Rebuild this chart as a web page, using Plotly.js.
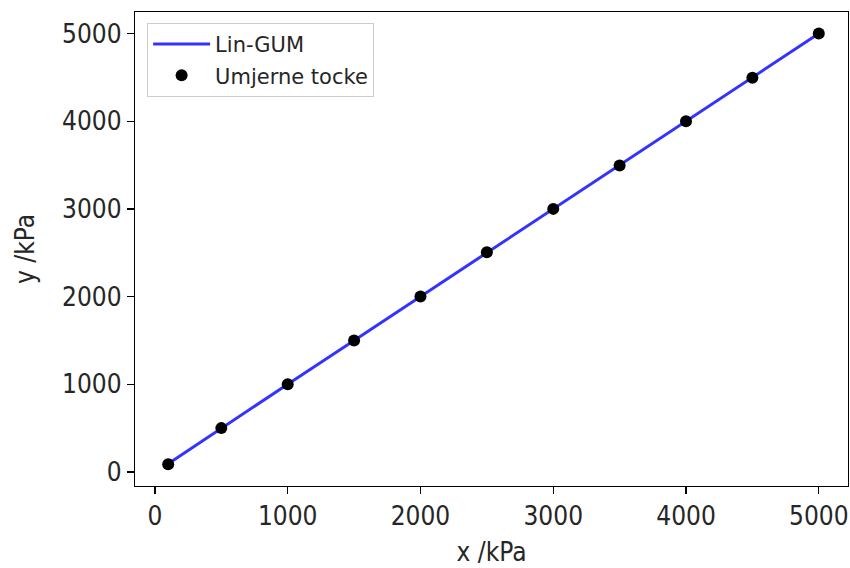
<!DOCTYPE html>
<html><head><meta charset="utf-8">
<script src="https://cdn.plot.ly/plotly-3.0.1.min.js"></script>
<style>body{margin:0;background:#fff}#c{width:850px;height:568px}</style>
</head><body><div id="c"></div>
<script>
const xVals = [100, 500, 1000, 1500, 2000, 2500, 3000, 3500, 4000, 4500, 5000];
const yVals = [88, 500, 1000, 1500, 2000, 2505, 3000, 3495, 4000, 4495, 5000];
const yErr = [15, 15, 15, 15, 15, 15, 15, 15, 15, 15, 15];
const fitY = [95, 500, 1000, 1500, 2000, 2500, 3000, 3500, 4000, 4500, 5000];
const tickVals = [0, 1000, 2000, 3000, 4000, 5000];

const font = {family: '"DejaVu Sans Condensed", "DejaVu Sans", sans-serif', size: 26, color: '#262626'};
const traces = [
  {x: xVals, y: fitY, mode: 'lines', name: 'Lin-GUM', legendgroup: 'a',
   line: {color: 'rgba(0,0,255,0.8)', width: 3}},
  {x: xVals, y: yVals, mode: 'markers', name: 'Umjerne tocke', legendgroup: 'b',
   marker: {color: 'black', size: 12},
   error_y: {type: 'data', array: yErr, visible: true, color: 'black', thickness: 1.5, width: 0}}
];
const axis = {
  showgrid: false, zeroline: false, showline: true, mirror: true,
  linecolor: 'black', linewidth: 1.2, ticks: 'outside', ticklen: 7, tickwidth: 1.3,
  tickcolor: 'black', tickvals: tickVals, tickfont: font
};
const layout = {
  width: 850, height: 568,
  margin: {l: 135, r: 2, t: 12, b: 82},
  paper_bgcolor: 'white', plot_bgcolor: 'white',
  showlegend: true,
  xaxis: Object.assign({}, axis, {range: [-150, 5220], title: {text: 'x /kPa', font: font, standoff: 12}}),
  yaxis: Object.assign({}, axis, {range: [-160, 5245], title: {text: 'y /kPa', font: font, standoff: 20}}),
  legend: {x: 0.017, y: 0.977, xanchor: 'left', yanchor: 'top', itemwidth: 57,
    bgcolor: 'rgba(255,255,255,0.8)', bordercolor: '#cccccc', borderwidth: 1,
    font: {family: 'DejaVu Sans', size: 21, color: '#262626'}, tracegroupgap: 1}
};
Plotly.newPlot('c', traces, layout, {displayModeBar: false, staticPlot: true});
</script></body></html>
